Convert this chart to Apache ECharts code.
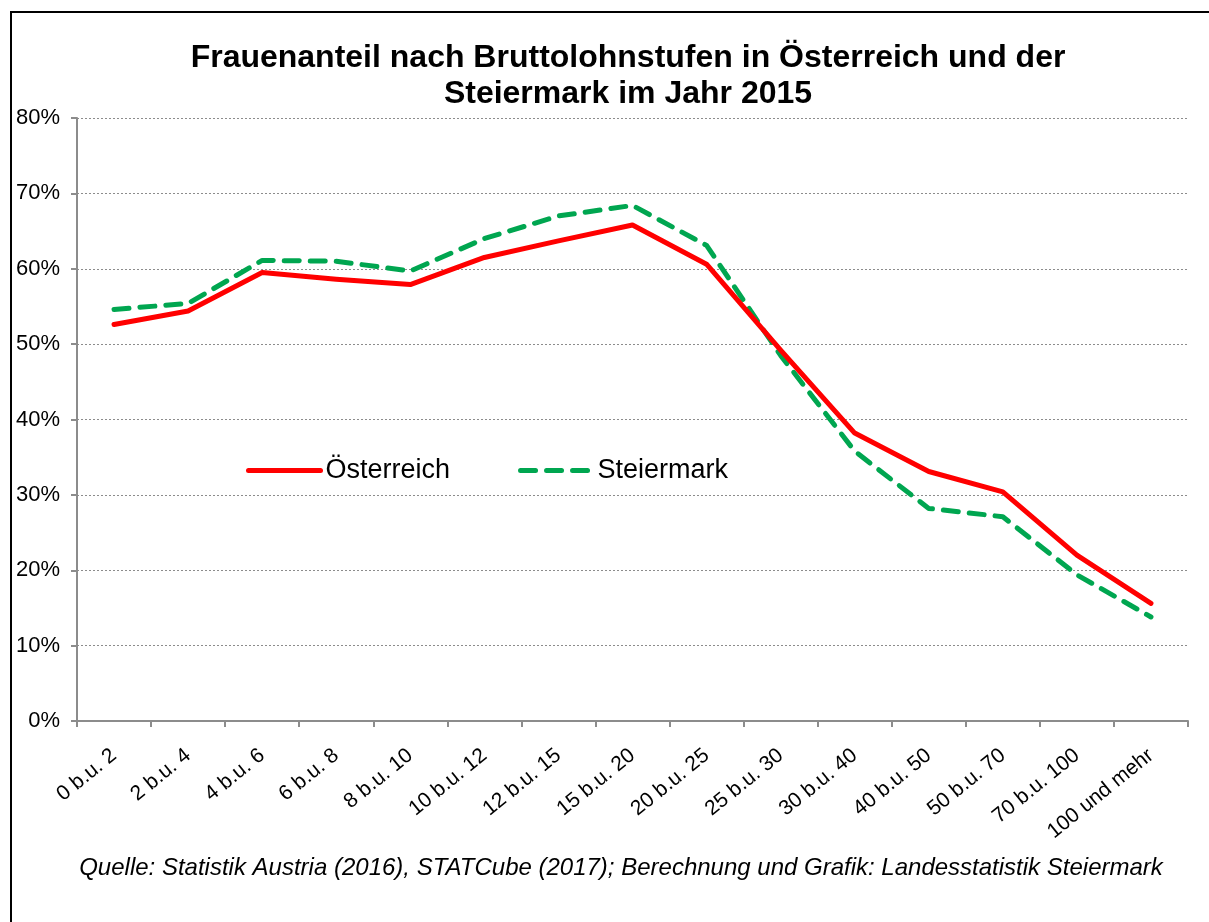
<!DOCTYPE html>
<html>
<head>
<meta charset="utf-8">
<script src="https://cdn.jsdelivr.net/npm/echarts@6/dist/echarts.min.js"></script>
<style>
  html, body { margin: 0; padding: 0; background: #fff; }
  #chart { width: 1209px; height: 922px; }
</style>
</head>
<body>
<div id="chart"></div>
<script>
// Bruttolohnstufen (in 1.000 Euro)
const categories = ['0 b.u. 2', '2 b.u. 4', '4 b.u. 6', '6 b.u. 8', '8 b.u. 10', '10 b.u. 12', '12 b.u. 15',
    '15 b.u. 20', '20 b.u. 25', '25 b.u. 30', '30 b.u. 40', '40 b.u. 50', '50 b.u. 70', '70 b.u. 100', '100 und mehr']
// Frauenanteil in %
const oesterreich = [52.6, 54.4, 59.5, 58.6, 57.9, 61.5, 63.7, 65.8, 60.6, 49.2, 38.2, 33.1, 30.4, 22.0, 15.6]
const steiermark = [54.6, 55.4, 61.1, 61.0, 59.7, 64.0, 67.0, 68.4, 63.1, 48.5, 35.8, 28.2, 27.1, 19.4, 13.8]
const yTicks = [0, 10, 20, 30, 40, 50, 60, 70, 80]

const titleText = 'Frauenanteil nach Bruttolohnstufen in Österreich und der\nSteiermark im Jahr 2015'
const sourceText = 'Quelle: Statistik Austria (2016), STATCube (2017); Berechnung und Grafik: Landesstatistik Steiermark'

const font = '"Liberation Sans", Arial, sans-serif'
const red = '#ff0000'
const green = '#00a650'
const greenDash = [15, 11]

const myChart = echarts.init(document.getElementById('chart'))
const option = {
    animation: false,
    textStyle: { fontFamily: font, color: '#000' },
    graphic: [
        { // Rahmen
            type: 'rect',
            shape: { x: 11, y: 12, width: 1400, height: 1100 },
            style: { fill: 'none', stroke: '#000', lineWidth: 2 }
        },
        {
            type: 'text',
            x: 628,
            y: 40,
            style: {
                text: titleText,
                textAlign: 'center',
                font: 'bold 32px ' + font,
                lineHeight: 36,
                fill: '#000'
            }
        },
        {
            type: 'text',
            x: 621,
            y: 868,
            style: {
                text: sourceText,
                textAlign: 'center',
                textVerticalAlign: 'middle',
                font: 'italic 24px ' + font,
                fill: '#000'
            }
        }
    ],
    legend: {
        left: 241,
        top: 452,
        itemWidth: 72,
        itemHeight: 14,
        itemGap: 68,
        textStyle: { fontSize: 27, fontFamily: font, color: '#000' },
        data: [
            {
                name: 'Österreich',
                lineStyle: { color: red, width: 5, cap: 'round', type: 'solid' },
                itemStyle: { opacity: 0, borderWidth: 0 }
            },
            {
                name: 'Steiermark',
                lineStyle: { color: green, width: 5, cap: 'round', type: greenDash },
                itemStyle: { opacity: 0, borderWidth: 0 }
            }
        ]
    },
    grid: {
        left: 77,
        right: 21,
        top: 118,
        bottom: 201,
        containLabel: false
    },
    xAxis: {
        type: 'category',
        data: categories,
        boundaryGap: true,
        axisLine: { lineStyle: { color: '#8c8c8c', width: 2 } },
        axisTick: { show: true, length: 6, lineStyle: { color: '#8c8c8c', width: 2 } },
        axisLabel: {
            interval: 0,
            rotate: 39,
            margin: 32,
            fontSize: 21,
            color: '#000',
            fontFamily: font
        }
    },
    yAxis: {
        type: 'value',
        min: yTicks[0],
        max: yTicks[yTicks.length - 1],
        interval: 10,
        axisLine: { show: true, lineStyle: { color: '#8c8c8c', width: 2 } },
        axisTick: { show: true, length: 6, lineStyle: { color: '#8c8c8c', width: 2 } },
        axisLabel: {
            formatter: '{value}%',
            fontSize: 22,
            margin: 17,
            color: '#000',
            fontFamily: font
        },
        splitLine: {
            lineStyle: { color: '#8c8c8c', type: [2, 2], width: 1 }
        }
    },
    series: [
        {
            name: 'Österreich',
            type: 'line',
            data: oesterreich,
            symbol: 'none',
            lineStyle: { color: red, width: 5, cap: 'round', join: 'round' },
            itemStyle: { color: red },
            z: 3
        },
        {
            name: 'Steiermark',
            type: 'line',
            data: steiermark,
            symbol: 'none',
            lineStyle: { color: green, width: 5, type: greenDash, cap: 'round', join: 'round' },
            itemStyle: { color: green },
            z: 2
        }
    ]
}
myChart.setOption(option)
window.addEventListener('resize', () => { myChart.resize() })
</script>
</body>
</html>
